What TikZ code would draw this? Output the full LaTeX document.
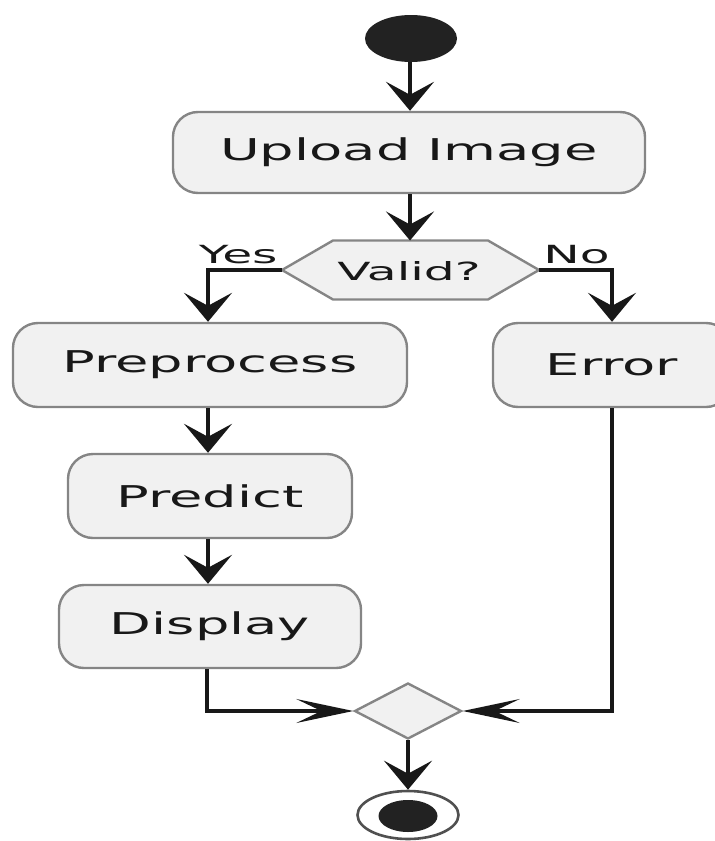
\documentclass[tikz,border=0pt]{standalone}
\usepackage{fontspec}
\setmainfont{DejaVu Sans}
\usetikzlibrary{arrows.meta,shapes.geometric}

\definecolor{actfill}{HTML}{F1F1F1}
\definecolor{actline}{HTML}{858585}
\definecolor{flow}{HTML}{181818}
\definecolor{dot}{HTML}{222222}

\tikzset{
  act/.style={draw=actline, line width=2.4pt, fill=actfill, rounded corners=25pt,
    inner sep=0pt, xscale=1.81, font=\fontsize{30}{36}\selectfont, text=flow},
  lbl/.style={inner sep=0pt, xscale=1.95, font=\fontsize{25}{30}\selectfont, text=flow},
  flowline/.style={draw=flow, line width=3.4pt},
  vtip/.style={-{Stealth[length=29pt, width=48pt, inset=13pt]}},
  htip/.style={-{Stealth[length=57pt, width=24pt, inset=25pt]}},
}

\begin{document}
\begin{tikzpicture}[x=1pt, y=-1pt]
\useasboundingbox (0,0) rectangle (715,841);

% start
\node[ellipse, fill=dot, inner sep=0pt, minimum width=92pt, minimum height=47pt] (start) at (411,38.5) {};

% activities
\node[act, minimum width=260.8pt, minimum height=81pt] (upload) at (409,152.5) {Upload Image};
\node[act, minimum width=217.7pt, minimum height=84pt] (pre) at (210,365) {Preprocess};
\node[act, minimum width=156.9pt, minimum height=84pt] (pred) at (210,496) {Predict};
\node[act, minimum width=166.9pt, minimum height=83pt] (disp) at (210,626.5) {Display};
\node[act, minimum width=131.5pt, minimum height=84pt] (err) at (612,365) {Error};

% decision
\coordinate (vl) at (282,270);
\coordinate (vr) at (539,270);
\coordinate (vt) at (410,240.5);
\filldraw[fill=actfill, draw=actline, line width=2.4pt, line join=round]
  (vl) -- (333,240.5) -- (488,240.5) -- (vr) -- (488,299.5) -- (333,299.5) -- cycle;
\node[lbl] (valid) at (409,271) {Valid?};
\node[lbl, anchor=base east] (yes) at (278,263) {Yes};
\node[lbl, anchor=base west] (no) at (543,263) {No};

% merge
\node[diamond, fill=actfill, draw=actline, line width=2.4pt, inner sep=0pt,
      minimum width=107pt, minimum height=56pt] (merge) at (408,711) {};

% end
\node[ellipse, draw=actline!60!black, line width=2.6pt, fill=white, inner sep=0pt,
      minimum width=101pt, minimum height=48pt] (stop) at (408,815) {};
\node[ellipse, fill=dot, inner sep=0pt, minimum width=59pt, minimum height=32pt] (stopdot) at (408,816) {};

% flows
\draw[flowline, vtip] (start.south -| 410,0) -- (upload.north -| 410,0);
\draw[flowline, vtip] (upload.south -| 410,0) -- (vt);
\draw[flowline, vtip] (vl) -- (208,270) -- (pre.north -| 208,0);
\draw[flowline, vtip] (vr) -- (612,270) -- (err.north);
\draw[flowline, vtip] (pre.south -| 208,0) -- (pred.north -| 208,0);
\draw[flowline, vtip] (pred.south -| 208,0) -- (disp.north -| 208,0);
\draw[flowline, htip] (disp.south -| 207,0) |- (merge.west);
\draw[flowline, htip] (err.south) |- (merge.east);
\draw[flowline, vtip] (merge.south) -- (stop.north);
\end{tikzpicture}
\end{document}
